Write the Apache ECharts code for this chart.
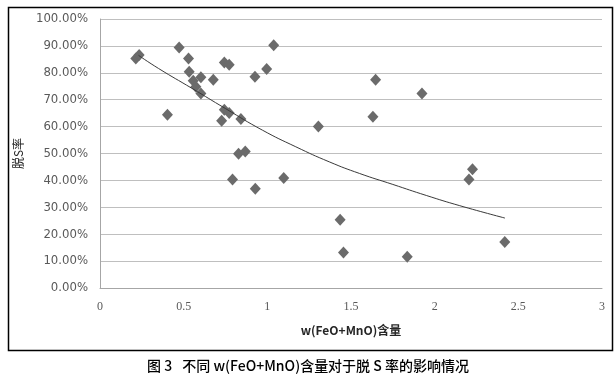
<!DOCTYPE html>
<html>
<head>
<meta charset="utf-8">
<script src="https://cdn.jsdelivr.net/npm/echarts@6/dist/echarts.min.js"></script>
<style>
html,body{margin:0;padding:0;background:#fff;}
#chart{width:616px;height:381px;}
</style>
</head>
<body>
<div id="chart"></div>
<script>
// FeO+MnO content (x) and desulfurization rate in % (y)
var xValues = [0.214, 0.234, 0.473, 0.529, 0.533, 0.557, 0.603, 0.573, 0.603, 0.677,
  0.403, 0.743, 0.772, 1.038, 0.996, 0.926, 0.743, 0.772, 0.727, 0.842,
  0.828, 0.868, 0.792, 0.928, 1.098, 1.305, 1.647, 1.924, 1.631, 2.226,
  2.205, 1.435, 1.455, 1.836, 2.419];
var yValues = [85.3, 86.6, 89.4, 85.3, 80.4, 77.0, 78.3, 74.8, 72.3, 77.4,
  64.4, 83.8, 83.0, 90.2, 81.4, 78.5, 66.3, 65.1, 62.2, 62.8,
  49.9, 50.7, 40.3, 36.9, 40.9, 60.0, 77.4, 72.3, 63.7, 44.1,
  40.3, 25.4, 13.2, 11.6, 17.1];
// trendline
var trendX = [0.23, 0.35, 0.55, 0.75, 0.97, 1.17, 1.37, 1.55, 1.75, 1.95, 2.15, 2.42];
var trendY = [86.5, 81.6, 74.2, 66.7, 58.7, 52.5, 46.9, 42.6, 38.5, 34.4, 30.6, 26.0];
var xTicks = ['0', '0.5', '1', '1.5', '2', '2.5', '3'];
var xName = 'w(FeO+MnO)含量';
var yName = '脱S率';
var caption = '图 3\u2002 不同 w(FeO+MnO)含量对于脱 S 率的影响情况';

var scatterData = xValues.map(function (x, i) { return [x, yValues[i] / 100]; });
var trendData = trendX.map(function (x, i) { return [x, trendY[i] / 100]; });

var chart = echarts.init(document.getElementById('chart'), null, {renderer: 'canvas'});
chart.setOption({
  animation: false,
  backgroundColor: '#fff',
  grid: {left: 100, top: 19, right: 14, bottom: 93, containLabel: false},
  xAxis: {
    type: 'value', min: 0, max: 3, interval: 0.5,
    axisLine: {show: true, lineStyle: {color: '#a6a6a6', width: 1}},
    axisTick: {show: false},
    splitLine: {show: false},
    axisLabel: {
      color: '#595959', fontSize: 12, margin: 13, fontFamily: 'Liberation Serif',
      formatter: function (v) { return xTicks[Math.round(v / 0.5)]; }
    },
    name: xName, nameLocation: 'middle', nameGap: 36,
    nameTextStyle: {color: '#262626', fontSize: 12, fontWeight: 'bold', fontFamily: 'Noto Sans CJK SC'}
  },
  yAxis: {
    type: 'value', min: 0, max: 1, interval: 0.1,
    axisLine: {show: true, lineStyle: {color: '#a6a6a6', width: 1}},
    axisTick: {show: false},
    splitLine: {show: true, lineStyle: {color: '#bfbfbf', width: 1}},
    axisLabel: {
      color: '#595959', fontSize: 13, margin: 12, fontFamily: 'DejaVu Sans Condensed, Noto Sans',
      formatter: function (v) { return (v * 100).toFixed(2) + '%'; }
    },
    name: yName, nameLocation: 'middle', nameGap: 76,
    nameTextStyle: {color: '#262626', fontSize: 12, fontFamily: 'Noto Sans CJK SC'}
  },
  series: [
    {
      type: 'scatter', data: scatterData, symbol: 'diamond', symbolSize: [11, 12],
      itemStyle: {color: '#6b6b6b', opacity: 1}, z: 3
    },
    {
      type: 'line', data: trendData, smooth: true, symbol: 'none',
      lineStyle: {color: '#3a3a3a', width: 1}, z: 4
    }
  ],
  graphic: [
    {type: 'rect', left: 6, top: 5, z: -1,
      shape: {width: 604, height: 343},
      style: {fill: 'none', stroke: '#000', lineWidth: 1.5}},
    {type: 'text', left: 'center', top: 359,
      style: {text: caption, fill: '#000', fontSize: 14, fontFamily: 'Noto Sans CJK SC', fontWeight: 500}}
  ]
});
</script>
</body>
</html>
